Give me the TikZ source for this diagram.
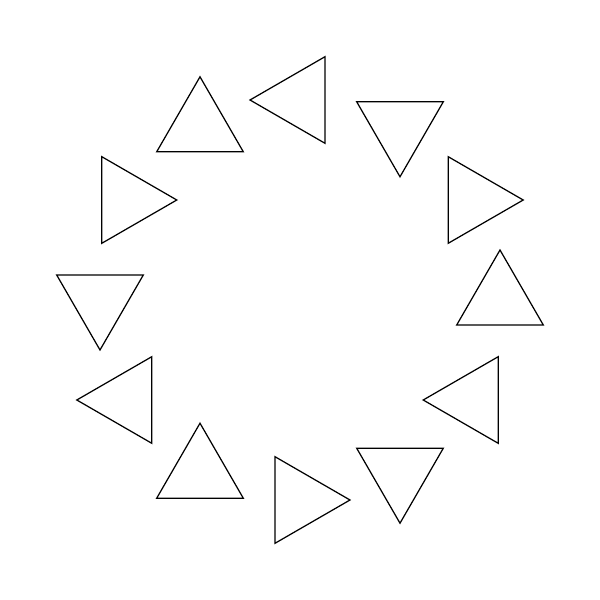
\documentclass[tikz,border=0pt]{standalone}
\usetikzlibrary{shapes.geometric}

\begin{document}
\begin{tikzpicture}[
    % Triangle style
    tri/.style={draw, regular polygon, regular polygon sides=3,
        minimum size=1cm, inner sep=0pt, outer sep=0pt, line width=0.35pt}
]

    % --- FRAME ---
    \useasboundingbox (0,0) rectangle (6,6);

    % --- TRIANGLES ---
    % twelve triangles on a circle, each turned a quarter from its neighbour
    \foreach \k in {0,...,11} {
        \node[tri, rotate={90*(\k+1)}] (t\k)
            at ({3+2*cos(90-30*\k)}, {3+2*sin(90-30*\k)}) {};
    }

\end{tikzpicture}
\end{document}
